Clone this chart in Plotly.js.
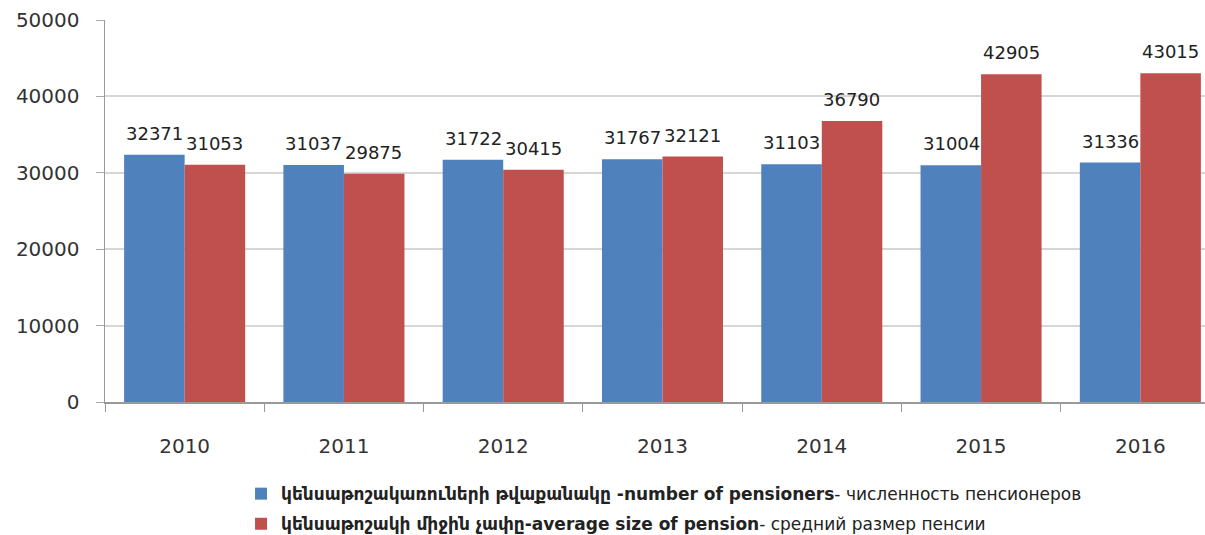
<!DOCTYPE html>
<html><head><meta charset="utf-8">
<script src="https://cdn.plot.ly/plotly-3.0.1.min.js"></script>
<style>html,body{margin:0;padding:0;overflow:hidden;background:#fff}</style>
</head><body>
<div id="chart"></div>
<script>
const years = ["2010","2011","2012","2013","2014","2015","2016"];
const pensioners = [32371,31037,31722,31767,31103,31004,31336];
const avgPension = [31053,29875,30415,32121,36790,42905,43015];
const name1 = "<b>կենսաթոշակառուների թվաքանակը -number of pensioners</b>- численность пенсионеров";
const name2 = "<b>կենսաթոշակի միջին չափը-average size of pension</b>- средний размер пенсии";

const labelFont = {family:"DejaVu Sans", size:18, color:"#222"};
const traces = [
  {type:"bar", x:years, y:pensioners, name:name1, legendgroup:"a",
   marker:{color:"#4F81BD"}},
  {type:"bar", x:years, y:avgPension, name:name2, legendgroup:"b",
   marker:{color:"#C0504D"}}
];
const annotations = [];
[[pensioners,-30],[avgPension,30]].forEach(([vals,dx]) => {
  vals.forEach((v,i) => annotations.push({
    x: i, y: v, xref:"x", yref:"y", text: String(v), showarrow:false,
    xanchor:"center", yanchor:"bottom", xshift:dx, yshift:9, font:labelFont
  }));
});
const layout = {
  width:1220, height:560,
  margin:{l:105, r:0, t:20, b:158},
  paper_bgcolor:"#fff", plot_bgcolor:"#fff",
  barmode:"group", bargap:0.24, bargroupgap:0,
  font:{family:"DejaVu Sans", color:"#333"},
  annotations: annotations,
  xaxis:{type:"category", range:[-0.5,6.5], tickson:"boundaries", ticks:"outside", ticklen:8, tickcolor:"#999",
         showline:true, linecolor:"#999", linewidth:1.5, showgrid:false,
         tickfont:{family:"DejaVu Sans", size:20, color:"#333"}, ticklabelstandoff:25},
  yaxis:{range:[0,50000], dtick:10000, tickformat:"d", ticks:"outside", ticklen:8, tickcolor:"#aaa",
         showline:true, linecolor:"#999", linewidth:1.5, gridcolor:"#d6d6d6", gridwidth:2,
         zeroline:false, tickfont:{family:"DejaVu Sans", size:20, color:"#333"}, ticklabelstandoff:12},
  showlegend:true,
  legend:{x:0.122, xanchor:"left", y:-0.194, yanchor:"top", orientation:"v",
          font:{family:"DejaVu Sans", size:17, color:"#222"}, tracegroupgap:5,
          itemwidth:30, bgcolor:"rgba(0,0,0,0)"}
};
Plotly.newPlot("chart", traces, layout, {displayModeBar:false, staticPlot:true});
</script>
</body></html>
